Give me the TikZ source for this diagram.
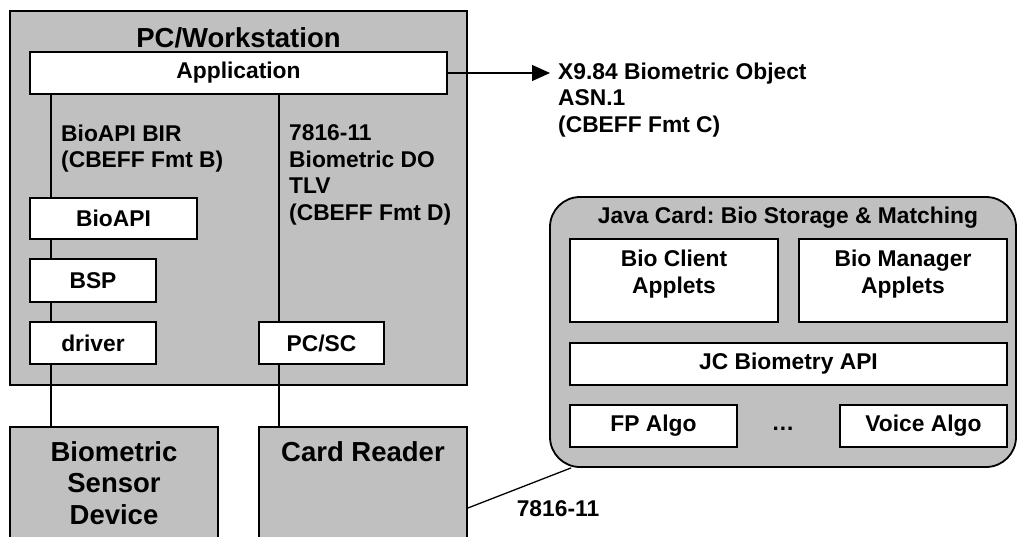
\documentclass[tikz,border=0pt]{standalone}
\usepackage{fontspec}
\setmainfont{Liberation Sans}
\usetikzlibrary{arrows.meta}
\definecolor{panelgray}{HTML}{C0C0C0}
\tikzset{
  txt/.style={font=\fontsize{22.8}{26.5}\selectfont\bfseries, inner sep=0pt},
  bigtxt/.style={font=\fontsize{27.5}{31.5}\selectfont\bfseries, inner sep=0pt},
  panel/.style={draw, line width=1.8pt, fill=panelgray, inner sep=0pt},
  unit/.style={draw, line width=1.8pt, fill=white, inner sep=0pt, txt},
  link/.style={line width=1.3pt},
}
\frenchspacing
\begin{document}
\begin{tikzpicture}[x=1pt, y=-1pt]
  \useasboundingbox (0,0) rectangle (1018,536);
  % PC side
  \node[panel, minimum width=457pt, minimum height=374pt] (pc) at (238.5,198) {};
  \node[bigtxt] (pctitle) at (238.5,38) {PC/Workstation};
  \node[unit, minimum width=417pt, minimum height=42pt] (app) at (238.5,73) {Application};
  \node[unit, minimum width=167pt, minimum height=41pt] (bioapi) at (113.5,218.5) {BioAPI};
  \node[unit, minimum width=126pt, minimum height=43pt] (bsp) at (93,280.5) {BSP};
  \node[unit, minimum width=126pt, minimum height=42pt] (driver) at (93,343) {driver};
  \node[unit, minimum width=125pt, minimum height=42pt] (pcsc) at (321.5,343) {PC/SC};
  \node[txt, align=left, anchor=west] (birtxt) at (61,148.5) {BioAPI BIR\\(CBEFF Fmt B)};
  \node[txt, align=left, anchor=west] (dotxt) at (289,175) {7816-11\\Biometric DO\\TLV\\(CBEFF Fmt D)};
  % devices
  \node[panel, bigtxt, align=center, minimum width=208pt, minimum height=112pt] (sensor) at (114,483) {Biometric\\Sensor\\Device};
  \node[panel, minimum width=208pt, minimum height=112pt] (reader) at (363,483) {};
  \node[bigtxt] (readertxt) at (363,452) {Card Reader};
  % card
  \node[panel, rounded corners=30pt, minimum width=466pt, minimum height=270pt] (java) at (783,332) {};
  \node[txt] (javatitle) at (788,218) {Java Card: Bio Storage \& Matching};
  \node[unit, minimum width=208pt, minimum height=83pt] (client) at (674,280.5) {};
  \node[txt, align=center] (clienttxt) at (674,274) {Bio Client\\Applets};
  \node[unit, minimum width=208pt, minimum height=83pt] (manager) at (903,280.5) {};
  \node[txt, align=center] (managertxt) at (903,274) {Bio Manager\\Applets};
  \node[unit, minimum width=437pt, minimum height=42pt] (jcapi) at (788.5,364) {JC Biometry API};
  \node[unit, minimum width=167pt, minimum height=42pt] (fpalgo) at (653.5,426) {FP Algo};
  \node[unit, minimum width=167pt, minimum height=42pt] (voicealgo) at (923.5,426) {Voice Algo};
  \node[txt] (dots) at (783,429) {…};
  % connections
  \draw[link] ([xshift=22pt]app.south west) -- ([xshift=22pt]bioapi.north west);
  \draw[link] ([xshift=22pt]bioapi.south west) -- ([xshift=22pt]bsp.north west);
  \draw[link] ([xshift=22pt]bsp.south west) -- ([xshift=22pt]driver.north west);
  \draw[link] ([xshift=22pt]driver.south west) -- ([xshift=42pt]sensor.north west);
  \draw[link] ([xshift=250pt]app.south west) -- ([xshift=21pt]pcsc.north west);
  \draw[link] ([xshift=21pt]pcsc.south west) -- ([xshift=21pt]reader.north west);
  \draw[link] ([yshift=-25pt]reader.east) -- ([xshift=22pt]java.south west);
  \node[txt] (linktxt) at (558,509) {7816-11};
  \coordinate (objtip) at (550,73);
  \draw[link, -{Triangle[length=18pt,width=16pt]}] (app.east) -- (objtip);
  \node[txt, align=left, anchor=west] (x984) at (558,100) {X9.84 Biometric Object\\ASN.1\\(CBEFF Fmt C)};
\end{tikzpicture}
\end{document}
